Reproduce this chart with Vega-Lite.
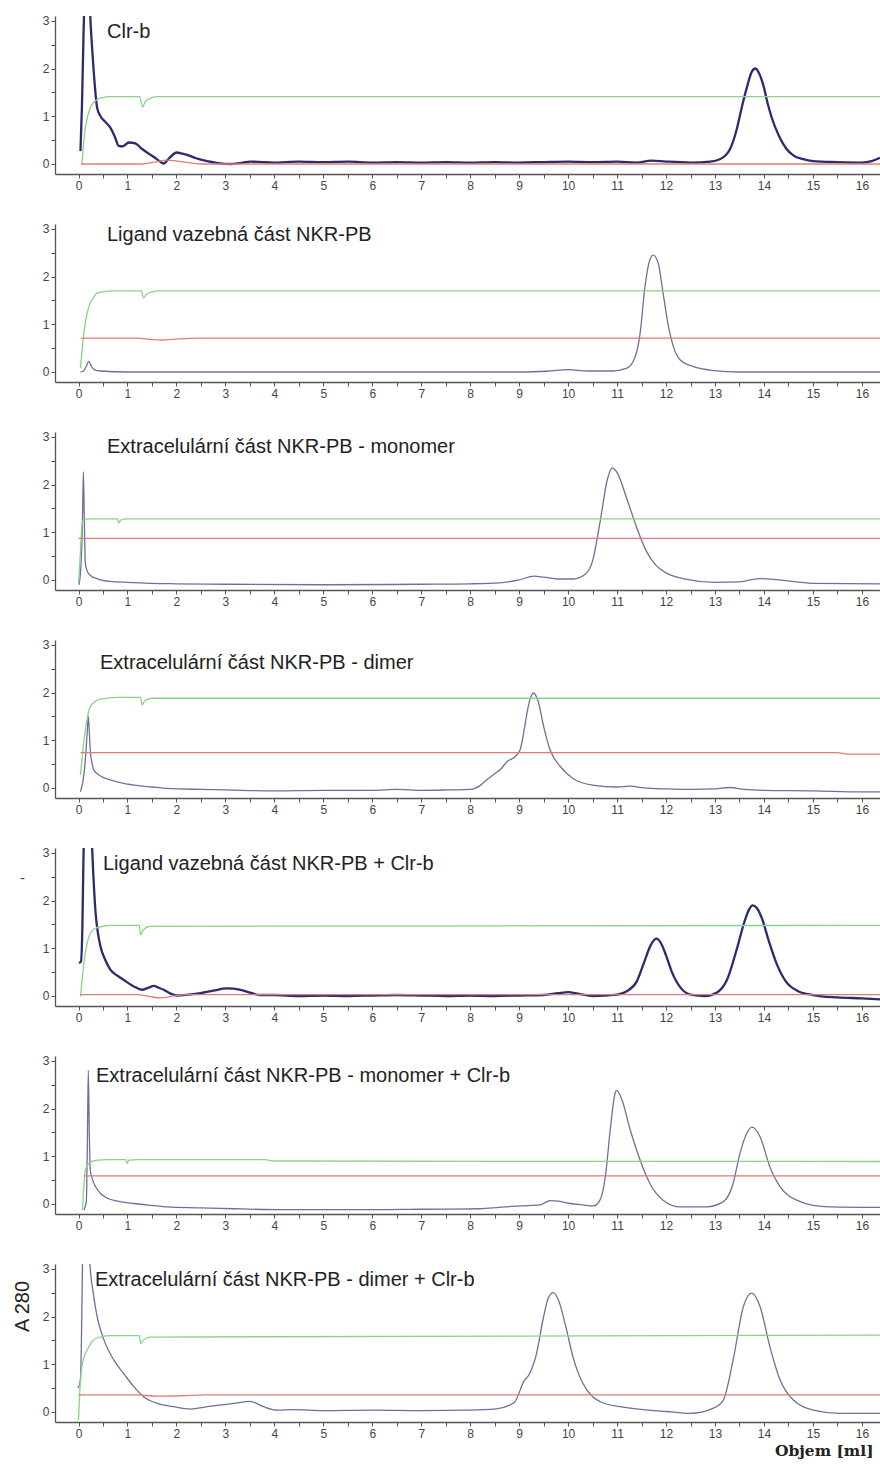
{
  "$schema": "https://vega.github.io/schema/vega-lite/v6.json",
  "padding": {"left": 12, "top": 14, "right": 0, "bottom": 0},
  "background": "white",
  "spacing": 31,
  "config": {
    "view": {"stroke": null},
    "axis": {"grid": false, "domainColor": "#555", "tickColor": "#555", "labelColor": "#444", "labelFont": "Liberation Sans", "labelFontSize": 12, "tickSize": 4, "domainWidth": 1.3, "tickWidth": 1, "labelPadding": 2, "labelOverlap": false, "labelFlush": false},
    "title": {"font": "Liberation Sans", "fontSize": 20, "fontWeight": "normal", "color": "#222", "anchor": "start", "frame": "group"}
  },
  "datasets": {
    "p1": [
      {"x":0.04,"y":0.27,"s":"D"},{"x":0.07,"y":1.2,"s":"D"},{"x":0.1,"y":2.6,"s":"D"},{"x":0.12,"y":3.4,"s":"D"},{"x":0.18,"y":4.2,"s":"D"},{"x":0.22,"y":3.6,"s":"D"},{"x":0.245,"y":3.0,"s":"D"},{"x":0.28,"y":2.4,"s":"D"},{"x":0.31,"y":1.95,"s":"D"},{"x":0.35,"y":1.45,"s":"D"},{"x":0.38,"y":1.18,"s":"D"},{"x":0.45,"y":1.0,"s":"D"},{"x":0.55,"y":0.88,"s":"D"},{"x":0.65,"y":0.76,"s":"D"},{"x":0.75,"y":0.55,"s":"D"},{"x":0.82,"y":0.38,"s":"D"},{"x":0.9,"y":0.37,"s":"D"},{"x":1.03,"y":0.45,"s":"D"},{"x":1.16,"y":0.43,"s":"D"},{"x":1.28,"y":0.33,"s":"D"},{"x":1.4,"y":0.24,"s":"D"},{"x":1.55,"y":0.14,"s":"D"},{"x":1.65,"y":0.06,"s":"D"},{"x":1.74,"y":0.01,"s":"D"},{"x":1.85,"y":0.12,"s":"D"},{"x":2.01,"y":0.24,"s":"D"},{"x":2.1,"y":0.22,"s":"D"},{"x":2.22,"y":0.19,"s":"D"},{"x":2.4,"y":0.12,"s":"D"},{"x":2.63,"y":0.06,"s":"D"},{"x":2.85,"y":0.02,"s":"D"},{"x":3.1,"y":0.0,"s":"D"},{"x":3.3,"y":0.02,"s":"D"},{"x":3.51,"y":0.05,"s":"D"},{"x":3.75,"y":0.04,"s":"D"},{"x":3.98,"y":0.03,"s":"D"},{"x":4.5,"y":0.05,"s":"D"},{"x":5,"y":0.04,"s":"D"},{"x":5.5,"y":0.05,"s":"D"},{"x":6,"y":0.03,"s":"D"},{"x":6.5,"y":0.04,"s":"D"},{"x":7,"y":0.03,"s":"D"},{"x":7.5,"y":0.04,"s":"D"},{"x":8,"y":0.03,"s":"D"},{"x":8.5,"y":0.04,"s":"D"},{"x":9,"y":0.03,"s":"D"},{"x":9.5,"y":0.04,"s":"D"},{"x":10,"y":0.05,"s":"D"},{"x":10.5,"y":0.04,"s":"D"},{"x":11,"y":0.05,"s":"D"},{"x":11.4,"y":0.03,"s":"D"},{"x":11.7,"y":0.07,"s":"D"},{"x":12,"y":0.05,"s":"D"},{"x":12.5,"y":0.03,"s":"D"},{"x":12.9,"y":0.05,"s":"D"},{"x":13.1,"y":0.1,"s":"D"},{"x":13.3,"y":0.3,"s":"D"},{"x":13.45,"y":0.75,"s":"D"},{"x":13.55,"y":1.2,"s":"D"},{"x":13.65,"y":1.6,"s":"D"},{"x":13.75,"y":1.93,"s":"D"},{"x":13.82,"y":2.0,"s":"D"},{"x":13.9,"y":1.9,"s":"D"},{"x":14.0,"y":1.6,"s":"D"},{"x":14.08,"y":1.25,"s":"D"},{"x":14.15,"y":1.0,"s":"D"},{"x":14.3,"y":0.6,"s":"D"},{"x":14.45,"y":0.33,"s":"D"},{"x":14.6,"y":0.18,"s":"D"},{"x":14.8,"y":0.1,"s":"D"},{"x":15.0,"y":0.06,"s":"D"},{"x":15.5,"y":0.04,"s":"D"},{"x":16.0,"y":0.03,"s":"D"},{"x":16.2,"y":0.06,"s":"D"},{"x":16.37,"y":0.13,"s":"D"},
      {"x":0.07,"y":0.0,"s":"G"},{"x":0.12,"y":0.6,"s":"G"},{"x":0.18,"y":0.97,"s":"G"},{"x":0.25,"y":1.2,"s":"G"},{"x":0.32,"y":1.3,"s":"G"},{"x":0.38,"y":1.35,"s":"G"},{"x":0.5,"y":1.39,"s":"G"},{"x":0.6,"y":1.41,"s":"G"},{"x":1.25,"y":1.41,"s":"G"},{"x":1.28,"y":1.3,"s":"G"},{"x":1.31,"y":1.19,"s":"G"},{"x":1.36,"y":1.3,"s":"G"},{"x":1.45,"y":1.37,"s":"G"},{"x":1.6,"y":1.41,"s":"G"},{"x":16.37,"y":1.41,"s":"G"},
      {"x":0.05,"y":0.0,"s":"R"},{"x":1.3,"y":0.0,"s":"R"},{"x":1.55,"y":0.04,"s":"R"},{"x":1.8,"y":0.08,"s":"R"},{"x":2.1,"y":0.05,"s":"R"},{"x":2.5,"y":0.0,"s":"R"},{"x":16.37,"y":0.0,"s":"R"}
    ],
    "p2": [
      {"x":0.04,"y":0.0,"s":"A"},{"x":0.1,"y":0.02,"s":"A"},{"x":0.16,"y":0.12,"s":"A"},{"x":0.21,"y":0.22,"s":"A"},{"x":0.26,"y":0.12,"s":"A"},{"x":0.32,"y":0.05,"s":"A"},{"x":0.45,"y":0.02,"s":"A"},{"x":1,"y":0.0,"s":"A"},{"x":3,"y":0.0,"s":"A"},{"x":5,"y":0.0,"s":"A"},{"x":7,"y":0.0,"s":"A"},{"x":9,"y":0.0,"s":"A"},{"x":9.6,"y":0.02,"s":"A"},{"x":10.0,"y":0.05,"s":"A"},{"x":10.4,"y":0.02,"s":"A"},{"x":10.9,"y":0.02,"s":"A"},{"x":11.2,"y":0.08,"s":"A"},{"x":11.37,"y":0.32,"s":"A"},{"x":11.47,"y":0.81,"s":"A"},{"x":11.57,"y":1.79,"s":"A"},{"x":11.67,"y":2.35,"s":"A"},{"x":11.74,"y":2.45,"s":"A"},{"x":11.84,"y":2.28,"s":"A"},{"x":11.94,"y":1.65,"s":"A"},{"x":12.05,"y":0.95,"s":"A"},{"x":12.15,"y":0.53,"s":"A"},{"x":12.29,"y":0.25,"s":"A"},{"x":12.56,"y":0.11,"s":"A"},{"x":12.97,"y":0.03,"s":"A"},{"x":13.5,"y":0.0,"s":"A"},{"x":16.37,"y":0.0,"s":"A"},
      {"x":0.04,"y":0.08,"s":"G"},{"x":0.11,"y":0.82,"s":"G"},{"x":0.21,"y":1.37,"s":"G"},{"x":0.3,"y":1.55,"s":"G"},{"x":0.38,"y":1.65,"s":"G"},{"x":0.55,"y":1.69,"s":"G"},{"x":0.7,"y":1.7,"s":"G"},{"x":1.28,"y":1.7,"s":"G"},{"x":1.33,"y":1.55,"s":"G"},{"x":1.38,"y":1.62,"s":"G"},{"x":1.5,"y":1.68,"s":"G"},{"x":1.65,"y":1.7,"s":"G"},{"x":16.37,"y":1.7,"s":"G"},
      {"x":0.05,"y":0.71,"s":"R"},{"x":1.2,"y":0.71,"s":"R"},{"x":1.5,"y":0.68,"s":"R"},{"x":1.7,"y":0.67,"s":"R"},{"x":2.0,"y":0.69,"s":"R"},{"x":2.5,"y":0.71,"s":"R"},{"x":16.37,"y":0.71,"s":"R"}
    ],
    "p3": [
      {"x":0.01,"y":-0.1,"s":"A"},{"x":0.05,"y":0.3,"s":"A"},{"x":0.08,"y":1.2,"s":"A"},{"x":0.1,"y":2.27,"s":"A"},{"x":0.12,"y":1.2,"s":"A"},{"x":0.14,"y":0.35,"s":"A"},{"x":0.18,"y":0.18,"s":"A"},{"x":0.24,"y":0.1,"s":"A"},{"x":0.4,"y":0.02,"s":"A"},{"x":0.65,"y":-0.03,"s":"A"},{"x":1.0,"y":-0.05,"s":"A"},{"x":1.47,"y":-0.07,"s":"A"},{"x":2,"y":-0.08,"s":"A"},{"x":3,"y":-0.09,"s":"A"},{"x":5,"y":-0.1,"s":"A"},{"x":7,"y":-0.09,"s":"A"},{"x":8,"y":-0.08,"s":"A"},{"x":8.6,"y":-0.06,"s":"A"},{"x":9.0,"y":0.0,"s":"A"},{"x":9.3,"y":0.08,"s":"A"},{"x":9.5,"y":0.06,"s":"A"},{"x":9.8,"y":0.02,"s":"A"},{"x":10.1,"y":0.02,"s":"A"},{"x":10.35,"y":0.12,"s":"A"},{"x":10.5,"y":0.4,"s":"A"},{"x":10.65,"y":1.2,"s":"A"},{"x":10.8,"y":2.1,"s":"A"},{"x":10.9,"y":2.35,"s":"A"},{"x":11.0,"y":2.25,"s":"A"},{"x":11.2,"y":1.7,"s":"A"},{"x":11.4,"y":1.1,"s":"A"},{"x":11.6,"y":0.6,"s":"A"},{"x":11.8,"y":0.3,"s":"A"},{"x":12.0,"y":0.15,"s":"A"},{"x":12.4,"y":0.02,"s":"A"},{"x":13.0,"y":-0.05,"s":"A"},{"x":13.5,"y":-0.04,"s":"A"},{"x":13.9,"y":0.03,"s":"A"},{"x":14.3,"y":0.0,"s":"A"},{"x":15,"y":-0.07,"s":"A"},{"x":16.37,"y":-0.08,"s":"A"},
      {"x":0.0,"y":-0.1,"s":"G"},{"x":0.04,"y":0.6,"s":"G"},{"x":0.07,"y":1.15,"s":"G"},{"x":0.1,"y":1.25,"s":"G"},{"x":0.2,"y":1.28,"s":"G"},{"x":0.8,"y":1.28,"s":"G"},{"x":0.82,"y":1.19,"s":"G"},{"x":0.86,"y":1.25,"s":"G"},{"x":0.95,"y":1.28,"s":"G"},{"x":16.37,"y":1.28,"s":"G"},
      {"x":0.0,"y":0.87,"s":"R"},{"x":16.37,"y":0.87,"s":"R"}
    ],
    "p4": [
      {"x":0.04,"y":-0.08,"s":"A"},{"x":0.1,"y":0.2,"s":"A"},{"x":0.14,"y":0.59,"s":"A"},{"x":0.18,"y":1.2,"s":"A"},{"x":0.2,"y":1.5,"s":"A"},{"x":0.22,"y":1.2,"s":"A"},{"x":0.24,"y":0.8,"s":"A"},{"x":0.28,"y":0.5,"s":"A"},{"x":0.31,"y":0.38,"s":"A"},{"x":0.45,"y":0.25,"s":"A"},{"x":0.65,"y":0.17,"s":"A"},{"x":0.9,"y":0.1,"s":"A"},{"x":1.13,"y":0.06,"s":"A"},{"x":1.5,"y":0.02,"s":"A"},{"x":1.81,"y":-0.01,"s":"A"},{"x":2.5,"y":-0.03,"s":"A"},{"x":3.0,"y":-0.04,"s":"A"},{"x":3.99,"y":-0.06,"s":"A"},{"x":5,"y":-0.05,"s":"A"},{"x":6,"y":-0.05,"s":"A"},{"x":6.5,"y":-0.03,"s":"A"},{"x":7,"y":-0.05,"s":"A"},{"x":7.59,"y":-0.04,"s":"A"},{"x":8.0,"y":-0.03,"s":"A"},{"x":8.2,"y":0.05,"s":"A"},{"x":8.34,"y":0.17,"s":"A"},{"x":8.5,"y":0.3,"s":"A"},{"x":8.61,"y":0.38,"s":"A"},{"x":8.75,"y":0.55,"s":"A"},{"x":8.92,"y":0.66,"s":"A"},{"x":9.02,"y":0.8,"s":"A"},{"x":9.1,"y":1.2,"s":"A"},{"x":9.16,"y":1.57,"s":"A"},{"x":9.22,"y":1.85,"s":"A"},{"x":9.29,"y":1.99,"s":"A"},{"x":9.39,"y":1.81,"s":"A"},{"x":9.5,"y":1.29,"s":"A"},{"x":9.63,"y":0.8,"s":"A"},{"x":9.84,"y":0.45,"s":"A"},{"x":10.1,"y":0.2,"s":"A"},{"x":10.5,"y":0.06,"s":"A"},{"x":11.0,"y":0.02,"s":"A"},{"x":11.27,"y":0.04,"s":"A"},{"x":11.55,"y":0.0,"s":"A"},{"x":12,"y":-0.02,"s":"A"},{"x":12.5,"y":-0.03,"s":"A"},{"x":13.0,"y":-0.02,"s":"A"},{"x":13.3,"y":0.01,"s":"A"},{"x":13.6,"y":-0.03,"s":"A"},{"x":14,"y":-0.05,"s":"A"},{"x":15,"y":-0.06,"s":"A"},{"x":16,"y":-0.08,"s":"A"},{"x":16.37,"y":-0.08,"s":"A"},
      {"x":0.04,"y":0.27,"s":"G"},{"x":0.14,"y":1.22,"s":"G"},{"x":0.24,"y":1.7,"s":"G"},{"x":0.35,"y":1.82,"s":"G"},{"x":0.45,"y":1.86,"s":"G"},{"x":0.8,"y":1.9,"s":"G"},{"x":1.27,"y":1.9,"s":"G"},{"x":1.3,"y":1.74,"s":"G"},{"x":1.35,"y":1.82,"s":"G"},{"x":1.5,"y":1.88,"s":"G"},{"x":16.37,"y":1.88,"s":"G"},
      {"x":0.04,"y":0.74,"s":"R"},{"x":15.5,"y":0.74,"s":"R"},{"x":15.7,"y":0.71,"s":"R"},{"x":16.37,"y":0.71,"s":"R"}
    ],
    "p5": [
      {"x":0.01,"y":0.69,"s":"D"},{"x":0.05,"y":0.72,"s":"D"},{"x":0.08,"y":1.5,"s":"D"},{"x":0.1,"y":2.8,"s":"D"},{"x":0.12,"y":3.5,"s":"D"},{"x":0.2,"y":4.2,"s":"D"},{"x":0.26,"y":3.5,"s":"D"},{"x":0.3,"y":2.6,"s":"D"},{"x":0.35,"y":1.73,"s":"D"},{"x":0.4,"y":1.3,"s":"D"},{"x":0.45,"y":1.03,"s":"D"},{"x":0.55,"y":0.75,"s":"D"},{"x":0.65,"y":0.55,"s":"D"},{"x":0.8,"y":0.42,"s":"D"},{"x":0.92,"y":0.34,"s":"D"},{"x":1.13,"y":0.2,"s":"D"},{"x":1.3,"y":0.13,"s":"D"},{"x":1.42,"y":0.17,"s":"D"},{"x":1.54,"y":0.21,"s":"D"},{"x":1.62,"y":0.18,"s":"D"},{"x":1.74,"y":0.13,"s":"D"},{"x":1.88,"y":0.05,"s":"D"},{"x":2.01,"y":0.01,"s":"D"},{"x":2.25,"y":0.03,"s":"D"},{"x":2.49,"y":0.06,"s":"D"},{"x":2.75,"y":0.11,"s":"D"},{"x":3.03,"y":0.16,"s":"D"},{"x":3.31,"y":0.13,"s":"D"},{"x":3.5,"y":0.07,"s":"D"},{"x":3.71,"y":0.02,"s":"D"},{"x":3.99,"y":0.02,"s":"D"},{"x":4.5,"y":0.0,"s":"D"},{"x":5,"y":0.01,"s":"D"},{"x":5.5,"y":0.0,"s":"D"},{"x":6,"y":0.01,"s":"D"},{"x":6.5,"y":0.02,"s":"D"},{"x":7,"y":0.01,"s":"D"},{"x":7.5,"y":0.0,"s":"D"},{"x":8,"y":0.01,"s":"D"},{"x":8.5,"y":0.0,"s":"D"},{"x":9,"y":0.01,"s":"D"},{"x":9.5,"y":0.02,"s":"D"},{"x":9.8,"y":0.06,"s":"D"},{"x":10.0,"y":0.08,"s":"D"},{"x":10.2,"y":0.05,"s":"D"},{"x":10.5,"y":0.0,"s":"D"},{"x":11.0,"y":0.03,"s":"D"},{"x":11.2,"y":0.1,"s":"D"},{"x":11.4,"y":0.3,"s":"D"},{"x":11.55,"y":0.7,"s":"D"},{"x":11.68,"y":1.05,"s":"D"},{"x":11.8,"y":1.2,"s":"D"},{"x":11.9,"y":1.1,"s":"D"},{"x":12.0,"y":0.85,"s":"D"},{"x":12.12,"y":0.5,"s":"D"},{"x":12.3,"y":0.17,"s":"D"},{"x":12.5,"y":0.03,"s":"D"},{"x":12.8,"y":0.0,"s":"D"},{"x":13.05,"y":0.08,"s":"D"},{"x":13.25,"y":0.35,"s":"D"},{"x":13.45,"y":1.0,"s":"D"},{"x":13.6,"y":1.55,"s":"D"},{"x":13.7,"y":1.82,"s":"D"},{"x":13.77,"y":1.9,"s":"D"},{"x":13.85,"y":1.85,"s":"D"},{"x":13.95,"y":1.65,"s":"D"},{"x":14.1,"y":1.15,"s":"D"},{"x":14.25,"y":0.7,"s":"D"},{"x":14.45,"y":0.3,"s":"D"},{"x":14.7,"y":0.1,"s":"D"},{"x":15.0,"y":0.02,"s":"D"},{"x":15.5,"y":-0.03,"s":"D"},{"x":16,"y":-0.05,"s":"D"},{"x":16.37,"y":-0.07,"s":"D"},
      {"x":0.04,"y":-0.01,"s":"G"},{"x":0.14,"y":0.9,"s":"G"},{"x":0.24,"y":1.31,"s":"G"},{"x":0.35,"y":1.42,"s":"G"},{"x":0.45,"y":1.45,"s":"G"},{"x":0.7,"y":1.48,"s":"G"},{"x":1.24,"y":1.48,"s":"G"},{"x":1.27,"y":1.28,"s":"G"},{"x":1.32,"y":1.38,"s":"G"},{"x":1.45,"y":1.46,"s":"G"},{"x":16.37,"y":1.48,"s":"G"},
      {"x":0.04,"y":0.03,"s":"R"},{"x":1.2,"y":0.03,"s":"R"},{"x":1.45,"y":-0.01,"s":"R"},{"x":1.67,"y":-0.04,"s":"R"},{"x":1.95,"y":0.0,"s":"R"},{"x":2.2,"y":0.03,"s":"R"},{"x":16.37,"y":0.03,"s":"R"}
    ],
    "p6": [
      {"x":0.11,"y":-0.13,"s":"A"},{"x":0.16,"y":0.05,"s":"A"},{"x":0.18,"y":1.2,"s":"A"},{"x":0.2,"y":2.8,"s":"A"},{"x":0.22,"y":1.5,"s":"A"},{"x":0.24,"y":0.71,"s":"A"},{"x":0.29,"y":0.5,"s":"A"},{"x":0.35,"y":0.36,"s":"A"},{"x":0.45,"y":0.22,"s":"A"},{"x":0.59,"y":0.12,"s":"A"},{"x":0.8,"y":0.06,"s":"A"},{"x":1.13,"y":0.01,"s":"A"},{"x":1.5,"y":-0.03,"s":"A"},{"x":1.81,"y":-0.06,"s":"A"},{"x":2.5,"y":-0.08,"s":"A"},{"x":3.17,"y":-0.1,"s":"A"},{"x":4.2,"y":-0.12,"s":"A"},{"x":5,"y":-0.12,"s":"A"},{"x":6,"y":-0.12,"s":"A"},{"x":7,"y":-0.11,"s":"A"},{"x":8.2,"y":-0.1,"s":"A"},{"x":8.6,"y":-0.07,"s":"A"},{"x":9.02,"y":-0.04,"s":"A"},{"x":9.43,"y":-0.02,"s":"A"},{"x":9.55,"y":0.04,"s":"A"},{"x":9.63,"y":0.07,"s":"A"},{"x":9.8,"y":0.06,"s":"A"},{"x":10.04,"y":0.01,"s":"A"},{"x":10.3,"y":-0.02,"s":"A"},{"x":10.52,"y":-0.04,"s":"A"},{"x":10.65,"y":0.08,"s":"A"},{"x":10.76,"y":0.57,"s":"A"},{"x":10.86,"y":1.55,"s":"A"},{"x":10.96,"y":2.32,"s":"A"},{"x":10.99,"y":2.38,"s":"A"},{"x":11.1,"y":2.18,"s":"A"},{"x":11.27,"y":1.55,"s":"A"},{"x":11.47,"y":0.92,"s":"A"},{"x":11.67,"y":0.43,"s":"A"},{"x":11.8,"y":0.22,"s":"A"},{"x":11.94,"y":0.08,"s":"A"},{"x":12.29,"y":-0.06,"s":"A"},{"x":12.83,"y":-0.06,"s":"A"},{"x":13.17,"y":0.05,"s":"A"},{"x":13.37,"y":0.43,"s":"A"},{"x":13.51,"y":1.06,"s":"A"},{"x":13.65,"y":1.48,"s":"A"},{"x":13.75,"y":1.61,"s":"A"},{"x":13.92,"y":1.41,"s":"A"},{"x":14.12,"y":0.78,"s":"A"},{"x":14.33,"y":0.36,"s":"A"},{"x":14.5,"y":0.18,"s":"A"},{"x":14.67,"y":0.08,"s":"A"},{"x":15.0,"y":-0.03,"s":"A"},{"x":15.35,"y":-0.06,"s":"A"},{"x":16.37,"y":-0.07,"s":"A"},
      {"x":0.08,"y":-0.13,"s":"G"},{"x":0.14,"y":0.71,"s":"G"},{"x":0.21,"y":0.85,"s":"G"},{"x":0.38,"y":0.92,"s":"G"},{"x":0.6,"y":0.93,"s":"G"},{"x":0.97,"y":0.93,"s":"G"},{"x":0.99,"y":0.85,"s":"G"},{"x":1.03,"y":0.92,"s":"G"},{"x":1.2,"y":0.93,"s":"G"},{"x":3.8,"y":0.93,"s":"G"},{"x":4.0,"y":0.9,"s":"G"},{"x":16.37,"y":0.89,"s":"G"},
      {"x":0.11,"y":0.59,"s":"R"},{"x":16.37,"y":0.59,"s":"R"}
    ],
    "p7": [
      {"x":-0.01,"y":0.5,"s":"A"},{"x":0.04,"y":0.67,"s":"A"},{"x":0.06,"y":1.5,"s":"A"},{"x":0.08,"y":3.0,"s":"A"},{"x":0.1,"y":3.8,"s":"A"},{"x":0.18,"y":4.2,"s":"A"},{"x":0.24,"y":3.0,"s":"A"},{"x":0.3,"y":2.5,"s":"A"},{"x":0.38,"y":2.0,"s":"A"},{"x":0.52,"y":1.51,"s":"A"},{"x":0.72,"y":1.09,"s":"A"},{"x":0.92,"y":0.81,"s":"A"},{"x":1.13,"y":0.53,"s":"A"},{"x":1.33,"y":0.32,"s":"A"},{"x":1.61,"y":0.18,"s":"A"},{"x":1.94,"y":0.11,"s":"A"},{"x":2.29,"y":0.06,"s":"A"},{"x":2.63,"y":0.11,"s":"A"},{"x":3.17,"y":0.18,"s":"A"},{"x":3.51,"y":0.22,"s":"A"},{"x":3.78,"y":0.11,"s":"A"},{"x":4.06,"y":0.04,"s":"A"},{"x":4.4,"y":0.05,"s":"A"},{"x":5,"y":0.03,"s":"A"},{"x":6,"y":0.04,"s":"A"},{"x":7,"y":0.03,"s":"A"},{"x":8,"y":0.04,"s":"A"},{"x":8.5,"y":0.06,"s":"A"},{"x":8.9,"y":0.2,"s":"A"},{"x":9.1,"y":0.65,"s":"A"},{"x":9.2,"y":0.78,"s":"A"},{"x":9.35,"y":1.2,"s":"A"},{"x":9.5,"y":2.0,"s":"A"},{"x":9.6,"y":2.4,"s":"A"},{"x":9.7,"y":2.5,"s":"A"},{"x":9.8,"y":2.35,"s":"A"},{"x":9.95,"y":1.8,"s":"A"},{"x":10.1,"y":1.15,"s":"A"},{"x":10.3,"y":0.6,"s":"A"},{"x":10.5,"y":0.32,"s":"A"},{"x":10.65,"y":0.22,"s":"A"},{"x":11.06,"y":0.11,"s":"A"},{"x":12.01,"y":0.01,"s":"A"},{"x":12.49,"y":-0.03,"s":"A"},{"x":12.97,"y":0.08,"s":"A"},{"x":13.17,"y":0.25,"s":"A"},{"x":13.37,"y":1.09,"s":"A"},{"x":13.58,"y":2.21,"s":"A"},{"x":13.75,"y":2.49,"s":"A"},{"x":13.92,"y":2.21,"s":"A"},{"x":14.12,"y":1.37,"s":"A"},{"x":14.33,"y":0.67,"s":"A"},{"x":14.6,"y":0.25,"s":"A"},{"x":15.01,"y":0.04,"s":"A"},{"x":15.55,"y":-0.03,"s":"A"},{"x":16.37,"y":-0.03,"s":"A"},
      {"x":0.0,"y":-0.17,"s":"G"},{"x":0.04,"y":0.67,"s":"G"},{"x":0.1,"y":1.1,"s":"G"},{"x":0.18,"y":1.3,"s":"G"},{"x":0.28,"y":1.48,"s":"G"},{"x":0.38,"y":1.55,"s":"G"},{"x":0.65,"y":1.6,"s":"G"},{"x":1.24,"y":1.6,"s":"G"},{"x":1.27,"y":1.44,"s":"G"},{"x":1.32,"y":1.5,"s":"G"},{"x":1.45,"y":1.57,"s":"G"},{"x":16.37,"y":1.61,"s":"G"},
      {"x":0.0,"y":0.36,"s":"R"},{"x":1.2,"y":0.36,"s":"R"},{"x":1.6,"y":0.33,"s":"R"},{"x":2.1,"y":0.34,"s":"R"},{"x":2.6,"y":0.36,"s":"R"},{"x":16.37,"y":0.36,"s":"R"}
    ]
  },
  "vconcat": [
    {
      "width": 825, "height": 158,
      "title": {"text": "Clr-b", "offset": -27, "dx": 52},
      "data": {"name": "p1"},
      "mark": {"type": "line", "clip": true, "interpolate": "monotone"},
      "encoding": {
        "x": {"field": "x", "type": "quantitative", "scale": {"domain": [-0.48, 16.37], "nice": false, "zero": false}, "axis": {"title": null, "values": [0,0.5,1,1.5,2,2.5,3,3.5,4,4.5,5,5.5,6,6.5,7,7.5,8,8.5,9,9.5,10,10.5,11,11.5,12,12.5,13,13.5,14,14.5,15,15.5,16], "labelExpr": "datum.value % 1 === 0 ? format(datum.value, 'd') : ''"}},
        "y": {"field": "y", "type": "quantitative", "scale": {"domain": [-0.21, 3.1], "nice": false, "zero": false}, "axis": {"title": null, "values": [0,0.5,1,1.5,2,2.5,3], "labelExpr": "datum.value % 1 === 0 ? format(datum.value, 'd') : ''"}},
        "color": {"field": "s", "type": "nominal", "scale": {"domain": ["A","D","G","R"], "range": ["#6f6f9c","#2a2c6c","#86d486","#de7d75"]}, "legend": null},
        "strokeWidth": {"condition": {"test": "datum.s === 'D'", "value": 2.3}, "value": 1.3}
      }
    },
    {
      "width": 825, "height": 158,
      "title": {"text": "Ligand vazebná část NKR-PB", "offset": -22, "dx": 52},
      "data": {"name": "p2"},
      "mark": {"type": "line", "clip": true, "interpolate": "monotone"},
      "encoding": {
        "x": {"field": "x", "type": "quantitative", "scale": {"domain": [-0.48, 16.37], "nice": false, "zero": false}, "axis": {"title": null, "values": [0,0.5,1,1.5,2,2.5,3,3.5,4,4.5,5,5.5,6,6.5,7,7.5,8,8.5,9,9.5,10,10.5,11,11.5,12,12.5,13,13.5,14,14.5,15,15.5,16], "labelExpr": "datum.value % 1 === 0 ? format(datum.value, 'd') : ''"}},
        "y": {"field": "y", "type": "quantitative", "scale": {"domain": [-0.21, 3.1], "nice": false, "zero": false}, "axis": {"title": null, "values": [0,0.5,1,1.5,2,2.5,3], "labelExpr": "datum.value % 1 === 0 ? format(datum.value, 'd') : ''"}},
        "color": {"field": "s", "type": "nominal", "scale": {"domain": ["A","D","G","R"], "range": ["#6f6f9c","#2a2c6c","#86d486","#de7d75"]}, "legend": null},
        "strokeWidth": {"condition": {"test": "datum.s === 'D'", "value": 2.3}, "value": 1.3}
      }
    },
    {
      "width": 825, "height": 158,
      "title": {"text": "Extracelulární část NKR-PB - monomer", "offset": -26, "dx": 52},
      "data": {"name": "p3"},
      "mark": {"type": "line", "clip": true, "interpolate": "monotone"},
      "encoding": {
        "x": {"field": "x", "type": "quantitative", "scale": {"domain": [-0.48, 16.37], "nice": false, "zero": false}, "axis": {"title": null, "values": [0,0.5,1,1.5,2,2.5,3,3.5,4,4.5,5,5.5,6,6.5,7,7.5,8,8.5,9,9.5,10,10.5,11,11.5,12,12.5,13,13.5,14,14.5,15,15.5,16], "labelExpr": "datum.value % 1 === 0 ? format(datum.value, 'd') : ''"}},
        "y": {"field": "y", "type": "quantitative", "scale": {"domain": [-0.21, 3.1], "nice": false, "zero": false}, "axis": {"title": null, "values": [0,0.5,1,1.5,2,2.5,3], "labelExpr": "datum.value % 1 === 0 ? format(datum.value, 'd') : ''"}},
        "color": {"field": "s", "type": "nominal", "scale": {"domain": ["A","D","G","R"], "range": ["#6f6f9c","#2a2c6c","#86d486","#de7d75"]}, "legend": null},
        "strokeWidth": {"condition": {"test": "datum.s === 'D'", "value": 2.3}, "value": 1.3}
      }
    },
    {
      "width": 825, "height": 158,
      "title": {"text": "Extracelulární část NKR-PB - dimer", "offset": -34, "dx": 45},
      "data": {"name": "p4"},
      "mark": {"type": "line", "clip": true, "interpolate": "monotone"},
      "encoding": {
        "x": {"field": "x", "type": "quantitative", "scale": {"domain": [-0.48, 16.37], "nice": false, "zero": false}, "axis": {"title": null, "values": [0,0.5,1,1.5,2,2.5,3,3.5,4,4.5,5,5.5,6,6.5,7,7.5,8,8.5,9,9.5,10,10.5,11,11.5,12,12.5,13,13.5,14,14.5,15,15.5,16], "labelExpr": "datum.value % 1 === 0 ? format(datum.value, 'd') : ''"}},
        "y": {"field": "y", "type": "quantitative", "scale": {"domain": [-0.21, 3.1], "nice": false, "zero": false}, "axis": {"title": null, "values": [0,0.5,1,1.5,2,2.5,3], "labelExpr": "datum.value % 1 === 0 ? format(datum.value, 'd') : ''"}},
        "color": {"field": "s", "type": "nominal", "scale": {"domain": ["A","D","G","R"], "range": ["#6f6f9c","#2a2c6c","#86d486","#de7d75"]}, "legend": null},
        "strokeWidth": {"condition": {"test": "datum.s === 'D'", "value": 2.3}, "value": 1.3}
      }
    },
    {
      "width": 825, "height": 158,
      "title": {"text": "Ligand vazebná část NKR-PB + Clr-b", "offset": -27, "dx": 48},
      "data": {"name": "p5"},
      "mark": {"type": "line", "clip": true, "interpolate": "monotone"},
      "encoding": {
        "x": {"field": "x", "type": "quantitative", "scale": {"domain": [-0.48, 16.37], "nice": false, "zero": false}, "axis": {"title": null, "values": [0,0.5,1,1.5,2,2.5,3,3.5,4,4.5,5,5.5,6,6.5,7,7.5,8,8.5,9,9.5,10,10.5,11,11.5,12,12.5,13,13.5,14,14.5,15,15.5,16], "labelExpr": "datum.value % 1 === 0 ? format(datum.value, 'd') : ''"}},
        "y": {"field": "y", "type": "quantitative", "scale": {"domain": [-0.21, 3.1], "nice": false, "zero": false}, "axis": {"title": "-", "titleAngle": 0, "titleX": -33, "titleY": 37, "titleFontSize": 14, "titleColor": "#444", "titleFontWeight": "normal", "values": [0,0.5,1,1.5,2,2.5,3], "labelExpr": "datum.value % 1 === 0 ? format(datum.value, 'd') : ''"}},
        "color": {"field": "s", "type": "nominal", "scale": {"domain": ["A","D","G","R"], "range": ["#6f6f9c","#2a2c6c","#86d486","#de7d75"]}, "legend": null},
        "strokeWidth": {"condition": {"test": "datum.s === 'D'", "value": 2.3}, "value": 1.3}
      }
    },
    {
      "width": 825, "height": 158,
      "title": {"text": "Extracelulární část NKR-PB - monomer + Clr-b", "offset": -31, "dx": 41},
      "data": {"name": "p6"},
      "mark": {"type": "line", "clip": true, "interpolate": "monotone"},
      "encoding": {
        "x": {"field": "x", "type": "quantitative", "scale": {"domain": [-0.48, 16.37], "nice": false, "zero": false}, "axis": {"title": null, "values": [0,0.5,1,1.5,2,2.5,3,3.5,4,4.5,5,5.5,6,6.5,7,7.5,8,8.5,9,9.5,10,10.5,11,11.5,12,12.5,13,13.5,14,14.5,15,15.5,16], "labelExpr": "datum.value % 1 === 0 ? format(datum.value, 'd') : ''"}},
        "y": {"field": "y", "type": "quantitative", "scale": {"domain": [-0.21, 3.1], "nice": false, "zero": false}, "axis": {"title": null, "values": [0,0.5,1,1.5,2,2.5,3], "labelExpr": "datum.value % 1 === 0 ? format(datum.value, 'd') : ''"}},
        "color": {"field": "s", "type": "nominal", "scale": {"domain": ["A","D","G","R"], "range": ["#6f6f9c","#2a2c6c","#86d486","#de7d75"]}, "legend": null},
        "strokeWidth": {"condition": {"test": "datum.s === 'D'", "value": 2.3}, "value": 1.3}
      }
    },
    {
      "width": 825, "height": 158,
      "title": {"text": "Extracelulární část NKR-PB - dimer + Clr-b", "offset": -27, "dx": 40},
      "data": {"name": "p7"},
      "mark": {"type": "line", "clip": true, "interpolate": "monotone"},
      "encoding": {
        "x": {"field": "x", "type": "quantitative", "scale": {"domain": [-0.48, 16.37], "nice": false, "zero": false}, "axis": {"title": "Objem [ml]", "titleFont": "DejaVu Serif", "titleFontSize": 15.5, "titleFontWeight": "bold", "titleColor": "#222", "titleAnchor": "end", "titleAlign": "right", "titleX": 818, "titleY": 33, "titleBaseline": "alphabetic", "values": [0,0.5,1,1.5,2,2.5,3,3.5,4,4.5,5,5.5,6,6.5,7,7.5,8,8.5,9,9.5,10,10.5,11,11.5,12,12.5,13,13.5,14,14.5,15,15.5,16], "labelExpr": "datum.value % 1 === 0 ? format(datum.value, 'd') : ''"}},
        "y": {"field": "y", "type": "quantitative", "scale": {"domain": [-0.21, 3.1], "nice": false, "zero": false}, "axis": {"title": "A 280", "titleFont": "Liberation Sans", "titleFontSize": 20, "titleFontWeight": "normal", "titleColor": "#222", "titleAngle": 270, "titleX": -27, "titleY": 42, "titleAlign": "center", "titleBaseline": "alphabetic", "values": [0,0.5,1,1.5,2,2.5,3], "labelExpr": "datum.value % 1 === 0 ? format(datum.value, 'd') : ''"}},
        "color": {"field": "s", "type": "nominal", "scale": {"domain": ["A","D","G","R"], "range": ["#6f6f9c","#2a2c6c","#86d486","#de7d75"]}, "legend": null},
        "strokeWidth": {"condition": {"test": "datum.s === 'D'", "value": 2.3}, "value": 1.3}
      }
    }
  ]
}
